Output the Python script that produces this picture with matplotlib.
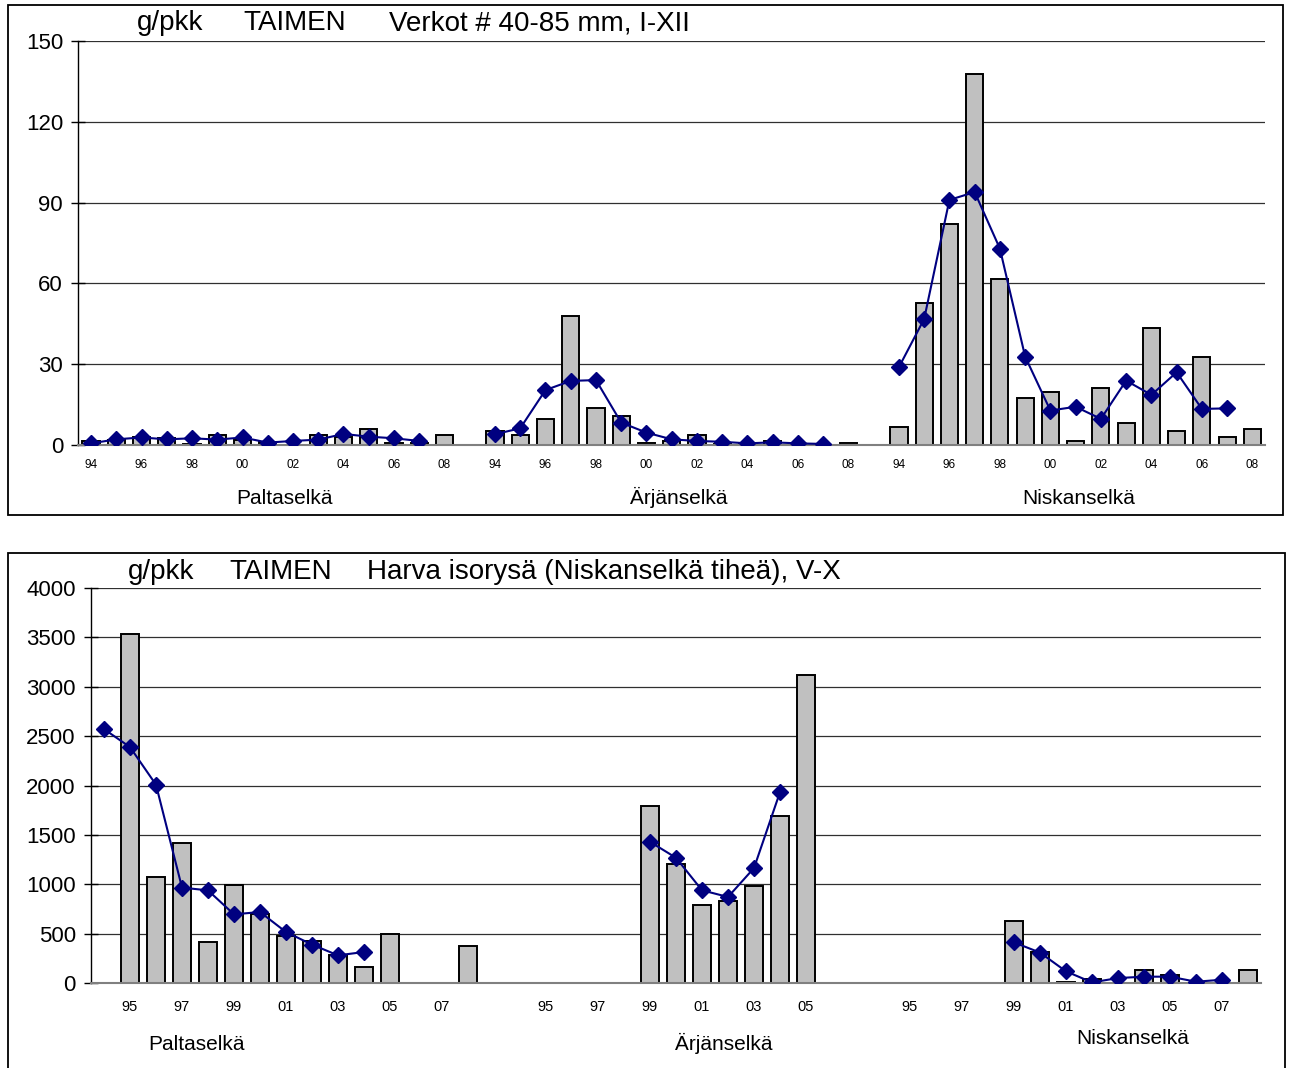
import numpy as np
import matplotlib
matplotlib.use("Agg")
import matplotlib.pyplot as plt
from matplotlib.patches import Rectangle

plt.rcParams['font.family'] = ['Liberation Sans', 'DejaVu Sans']

nan = np.nan
years = ['94', '95', '96', '97', '98', '99', '00', '01', '02', '03', '04', '05', '06', '07', '08']

# Ylempi kuva: verkot, I-XII (94-08 jokaiselle selalle)
pal_bar = [1.5, 2, 3, 2.7, 0.5, 3.7, 2, 1, 0, 3.7, 2.8, 5.8, 0.7, 0.7, 3.7]
pal_line = [0.6, 2.1, 2.8, 2.1, 2.5, 2, 2.8, 0.9, 1.5, 2, 4.1, 3.1, 2.5, 1.5, nan]
arj_bar = [5.2, 3.7, 9.5, 48, 13.9, 10.9, 0.6, 1.5, 3.7, 0.3, 0.5, 1.4, 0.3, 0, 0.6]
arj_line = [4, 6.2, 20.4, 23.8, 24.1, 8.3, 4.6, 2.1, 1.5, 1.2, 0.6, 1, 0.6, 0.4, nan]
nis_bar = [6.6, 52.9, 81.9, 137.7, 61.6, 17.4, 19.6, 1.6, 21.1, 8.1, 43.6, 5.2, 32.7, 3, 5.8]
nis_line = [28.9, 46.8, 91, 93.9, 72.9, 32.8, 12.8, 14.2, 9.7, 23.9, 18.6, 27, 13.4, 13.6, nan]

# Alempi kuva: isorysa, V-X (Arjanselka 94-06)
pal2_bar = [nan, 3537, 1070, 1421, 419, 989, 695, 476, 422, 280, 162, 500, nan, nan, 375]
pal2_line = [2571, 2389, 2008, 966, 938, 695, 719, 516, 389, 280, 314, nan, nan, nan, nan]
arj2_bar = [nan, nan, nan, nan, nan, 1795, 1207, 791, 832, 985, 1696, 3117, nan]
arj2_line = [nan, nan, nan, nan, nan, 1430, 1268, 939, 871, 1164, 1933, nan, nan]
nis2_bar = [nan, nan, nan, nan, nan, 631, 317, 13, 40, nan, 135, 81, nan, nan, 135]
nis2_line = [nan, nan, nan, nan, nan, 411, 308, 118, 6, 50, 64, 64, 13, 33, nan]

groups = ['Paltaselkä', 'Ärjänselkä', 'Niskanselkä']

W, H = 1290, 1068
fig = plt.figure(figsize=(W / 100, H / 100), dpi=100)


def join(parts):
    out = []
    for i, p in enumerate(parts):
        if i > 0:
            out.append(nan)
        out.extend(p)
    return np.array(out, dtype=float)


def labels_for(parts, every, start):
    labs = []
    for i, p in enumerate(parts):
        if i > 0:
            labs.append('')
        labs.extend(years[:len(p)])
    return [l if (k - start) % every == 0 else '' for k, l in enumerate(labs)]


def draw(rect, bars, line, tick_start, ymax, ystep, xfs, xpad):
    ax = fig.add_axes(rect)
    b = join(bars)
    ln = join(line)
    x = np.arange(len(b))
    m = ~np.isnan(b)
    ax.bar(x[m], b[m], width=0.68, color='#C0C0C0', edgecolor='black', linewidth=1.4, zorder=2)
    ax.plot(x, ln, color='#000080', lw=1.5, marker='D', ms=8.5, zorder=3)
    ax.set_xlim(-0.5, len(b) - 0.5)
    ax.set_ylim(0, ymax)
    ax.set_yticks(np.arange(0, ymax + 1, ystep))
    ax.yaxis.grid(True, color='#303030', lw=0.9)
    ax.set_axisbelow(True)
    ax.set_xticks(x)
    ax.set_xticklabels(labels_for(bars, 2, tick_start), fontsize=xfs)
    ax.tick_params(axis='x', length=0, pad=xpad)
    ax.tick_params(axis='y', direction='inout', length=10, width=1, labelsize=16, pad=6)
    for s in ['top', 'right']:
        ax.spines[s].set_visible(False)
    ax.spines['left'].set_linewidth(1)
    ax.spines['bottom'].set_color('#808080')
    ax.spines['bottom'].set_linewidth(1.5)
    return ax


def fx(px):
    return px / W


def fy(py):
    return 1 - py / H


# ylempi
draw([fx(78.4), fy(445), fx(1265 - 78.4), (445 - 41) / H],
     [pal_bar, arj_bar, nis_bar], [pal_line, arj_line, nis_line], 0, 150, 30, 8.5, 10)
# alempi
draw([fx(91), fy(983), fx(1261 - 91), (983 - 588) / H],
     [pal2_bar, arj2_bar, nis2_bar], [pal2_line, arj2_line, nis2_line], 1, 4000, 500, 10.5, 12)

# otsikot
tfs = 20
fig.text(fx(137), fy(23), 'g/pkk', fontsize=tfs, va='center')
fig.text(fx(243), fy(23), 'TAIMEN', fontsize=tfs, va='center')
fig.text(fx(389), fy(23), 'Verkot # 40-85 mm, I-XII', fontsize=tfs, va='center')
fig.text(fx(128), fy(572), 'g/pkk', fontsize=tfs, va='center')
fig.text(fx(229), fy(572), 'TAIMEN', fontsize=tfs, va='center')
fig.text(fx(367), fy(572), 'Harva isorysä (Niskanselkä tiheä), V-X', fontsize=tfs, va='center')

# selkien nimet
for name, px in zip(groups, [284, 679, 1079]):
    fig.text(fx(px), fy(504), name, fontsize=15, ha='center', va='baseline')
for name, px, py in zip(groups, [197, 724, 1133], [1050, 1050, 1044]):
    fig.text(fx(px), fy(py), name, fontsize=15, ha='center', va='baseline')

# kehykset
fig.patches.append(Rectangle((fx(8), fy(515)), fx(1283 - 8), (515 - 5) / H,
                             transform=fig.transFigure, fill=False, ec='black', lw=1.3))
fig.patches.append(Rectangle((fx(8), fy(1100)), fx(1285 - 8), (1100 - 553) / H,
                             transform=fig.transFigure, fill=False, ec='black', lw=1.3))

fig.savefig('out.png', dpi=100)
